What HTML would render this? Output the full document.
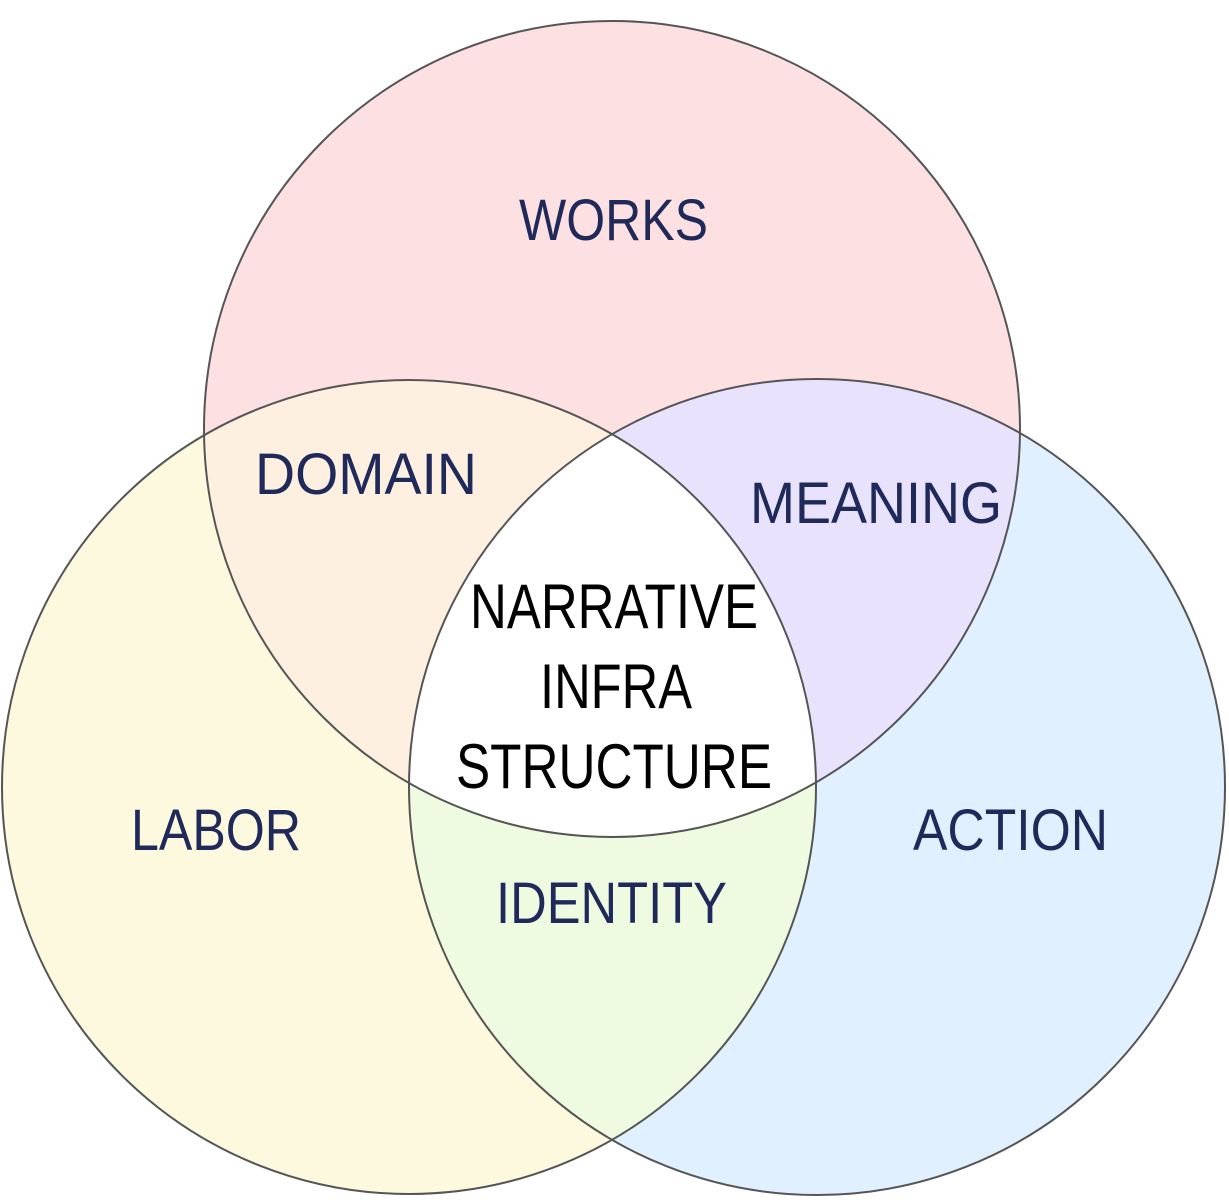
<!DOCTYPE html>
<html><head><style>html,body{margin:0;padding:0;background:#fff}svg{display:block}</style></head>
<body>
<svg width="1229" height="1200" viewBox="0 0 1229 1200" xmlns="http://www.w3.org/2000/svg">
<defs>
<clipPath id="cT"><circle cx="612" cy="429" r="408"/></clipPath>
<clipPath id="cL"><circle cx="409" cy="787" r="407"/></clipPath>
<clipPath id="cR"><circle cx="817" cy="787" r="408"/></clipPath>
</defs>
<circle cx="612" cy="429" r="408" fill="#fde0e1"/>
<circle cx="409" cy="787" r="407" fill="#fdf9df"/>
<circle cx="817" cy="787" r="408" fill="#e1f0fe"/>
<g clip-path="url(#cT)"><circle cx="409" cy="787" r="407" fill="#fef0e1"/><circle cx="817" cy="787" r="408" fill="#e8e2fd"/></g>
<g clip-path="url(#cL)"><circle cx="817" cy="787" r="408" fill="#effbe0"/></g>
<g clip-path="url(#cT)"><g clip-path="url(#cL)"><circle cx="817" cy="787" r="408" fill="#ffffff"/></g></g>
<g fill="none" stroke="#555" stroke-width="2">
<circle cx="612" cy="429" r="408"/>
<circle cx="409" cy="787" r="407"/>
<circle cx="817" cy="787" r="408"/>
</g>
<g font-family="Liberation Sans, sans-serif" font-size="58" fill="#1f2a5a">
<text x="519" y="240" textLength="189" lengthAdjust="spacingAndGlyphs">WORKS</text>
<text x="255" y="494" textLength="222" lengthAdjust="spacingAndGlyphs">DOMAIN</text>
<text x="750" y="523" textLength="252" lengthAdjust="spacingAndGlyphs">MEANING</text>
<text x="131" y="850" textLength="170" lengthAdjust="spacingAndGlyphs">LABOR</text>
<text x="913" y="850" textLength="195" lengthAdjust="spacingAndGlyphs">ACTION</text>
<text x="496" y="923" textLength="231" lengthAdjust="spacingAndGlyphs">IDENTITY</text>
</g>
<g font-family="Liberation Sans, sans-serif" font-size="63" fill="#000">
<text x="470" y="628" textLength="288" lengthAdjust="spacingAndGlyphs">NARRATIVE</text>
<text x="540" y="708" textLength="152" lengthAdjust="spacingAndGlyphs">INFRA</text>
<text x="456" y="788" textLength="316" lengthAdjust="spacingAndGlyphs">STRUCTURE</text>
</g>
</svg>
</body></html>
